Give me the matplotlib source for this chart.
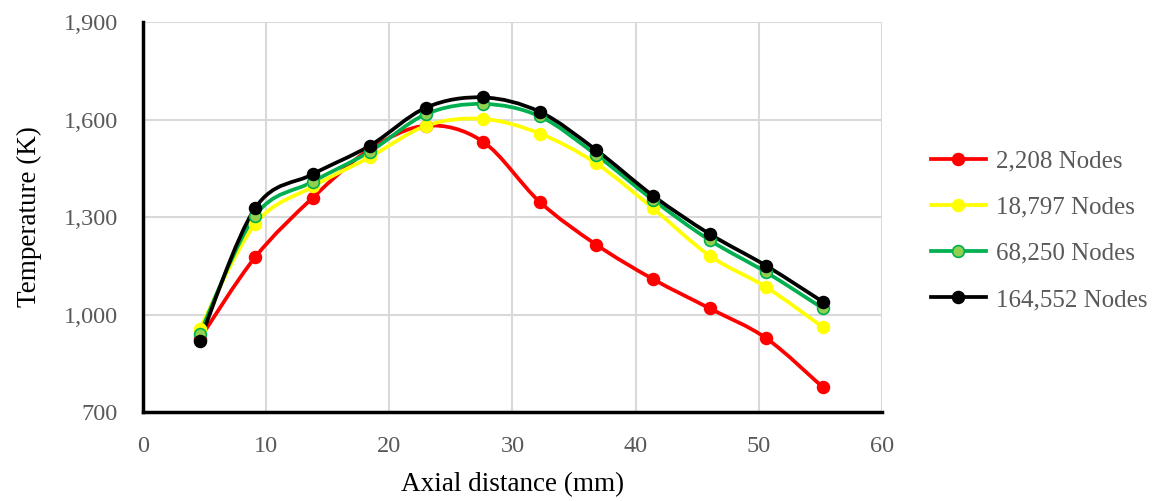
import numpy as np
import matplotlib.pyplot as plt
from matplotlib.path import Path
from matplotlib.patches import PathPatch
from matplotlib.ticker import FuncFormatter

plt.rcParams['font.family'] = ['Liberation Serif', 'DejaVu Serif']

# axial positions (mm)
axial = [4.6, 9.1, 13.8, 18.4, 23.0, 27.6, 32.2, 36.8, 41.4, 46.0, 50.6, 55.2]

# temperatures (K) for each mesh
temp_2208 = [925, 1176, 1360, 1508, 1581, 1532, 1347, 1215, 1109, 1019, 927, 776]
temp_18797 = [955, 1278, 1394, 1484, 1581, 1602, 1557, 1465, 1327, 1181, 1084, 961]
temp_68250 = [940, 1304, 1409, 1501, 1617, 1648, 1610, 1491, 1353, 1229, 1130, 1019]
temp_164552 = [919, 1327, 1432, 1519, 1637, 1668, 1624, 1506, 1366, 1248, 1150, 1039]

labels = ['2,208 Nodes', '18,797 Nodes', '68,250 Nodes', '164,552 Nodes']
line_colors = ['#FF0000', '#FFFF00', '#00B050', '#000000']
face_colors = ['#FF0000', '#FFFF00', '#92D050', '#000000']


def smooth_path(x, y):
    # Excel-style smoothed line: cubic Bezier through each point
    x = np.asarray(x, float)
    y = np.asarray(y, float)
    verts = [(x[0], y[0])]
    codes = [Path.MOVETO]
    n = len(x)
    for i in range(n - 1):
        x0, y0 = (x[i - 1], y[i - 1]) if i > 0 else (x[i], y[i])
        x3, y3 = (x[i + 2], y[i + 2]) if i + 2 < n else (x[i + 1], y[i + 1])
        c1 = (x[i] + (x[i + 1] - x0) / 6, y[i] + (y[i + 1] - y0) / 6)
        c2 = (x[i + 1] - (x3 - x[i]) / 6, y[i + 1] - (y3 - y[i]) / 6)
        verts += [c1, c2, (x[i + 1], y[i + 1])]
        codes += [Path.CURVE4] * 3
    return Path(verts, codes)


fig = plt.figure(figsize=(11.57, 5.01), dpi=100)
ax = fig.add_axes([0.1236, 0.1776, 0.6387, 0.7784])

series = [temp_2208, temp_18797, temp_68250, temp_164552]
for temps, lab, lc, fc in zip(series, labels, line_colors, face_colors):
    ax.add_patch(PathPatch(smooth_path(axial, temps), fill=False, edgecolor=lc,
                           linewidth=2.7, zorder=3, capstyle='round'))
    ax.plot(axial, temps, linestyle='none', marker='o', markersize=8.5,
            markerfacecolor=fc, markeredgecolor=lc, markeredgewidth=1.2, zorder=4)
    ax.plot([], [], color=lc, linewidth=2.7, marker='o', markersize=8.5,
            markerfacecolor=fc, markeredgecolor=lc, markeredgewidth=1.2, label=lab)

ax.set_xlim(0, 60)
ax.set_ylim(700, 1900)
ax.set_xticks(range(0, 61, 10))
ax.set_yticks(range(700, 1901, 300))
ax.yaxis.set_major_formatter(FuncFormatter(lambda v, p: f'{int(v):,}'))

ax.grid(True, color='#D9D9D9', linewidth=1.5)
ax.set_axisbelow(True)
for s in ['top', 'right']:
    ax.spines[s].set_visible(False)
for s in ['left', 'bottom']:
    ax.spines[s].set_linewidth(2.5)
    ax.spines[s].set_color('black')
ax.tick_params(length=0, labelsize=17.5, labelcolor='#595959')
ax.tick_params(axis='x', pad=17)
ax.tick_params(axis='y', pad=18)

ax.set_xlabel('Axial distance (mm)', fontsize=19.5, labelpad=11)
ax.set_ylabel('Temperature (K)', fontsize=19.5, labelpad=16)

leg = fig.legend(loc='center left', bbox_to_anchor=(0.785, 0.54), frameon=False,
                 fontsize=18, handlelength=2.2, labelspacing=0.95, handletextpad=0.4)
for t in leg.get_texts():
    t.set_color('#595959')

fig.savefig('out.png', dpi=100)
